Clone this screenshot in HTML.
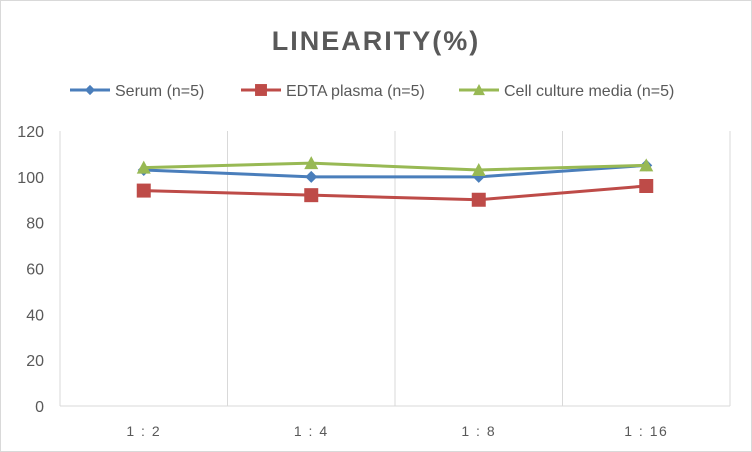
<!DOCTYPE html>
<html><head><meta charset="utf-8"><style>
body{margin:0;background:#fff;}
svg{display:block;font-family:"Liberation Sans",sans-serif;}
</style></head><body>
<svg width="752" height="452">
<rect x="0.5" y="0.5" width="751" height="451" fill="#fff" stroke="#d9d9d9"/>
<text x="376" y="50" text-anchor="middle" font-size="27" font-weight="bold" fill="#595959" letter-spacing="2">LINEARITY(%)</text>
<g id="legend"></g>
<g id="plot"></g>
</svg>
<script>
const categories=["1:2","1:4","1:8","1:16"];
const serum=[103,100,100,105];
const edta=[94,92,90,96];
const cell=[104,106,103,105];
const yTicks=[0,20,40,60,80,100,120];
const seriesNames=["Serum (n=5)","EDTA plasma (n=5)","Cell culture media (n=5)"];

const NS="http://www.w3.org/2000/svg";
const L=60,R=730,T=131,B=406,YMAX=120;
const cw=(R-L)/categories.length;
const xs=i=>L+cw*(i+0.5);
const ys=v=>B-(v/YMAX)*(B-T);
const plot=document.getElementById('plot');
function mk(tag,attrs,parent){const e=document.createElementNS(NS,tag);for(const k in attrs)e.setAttribute(k,attrs[k]);parent.appendChild(e);return e;}

for(let i=0;i<=categories.length;i++){
  const g=mk('line',{x1:L+cw*i,x2:L+cw*i,y1:T,y2:B,stroke:'#d9d9d9'},plot);
  
  
}
const ax=mk('line',{x1:L,x2:R,y1:B,y2:B,stroke:'#d9d9d9'},plot);


yTicks.forEach(v=>{
  const t=mk('text',{x:44,y:ys(v)+6,'text-anchor':'end','font-size':16,fill:'#595959'},plot);
  t.textContent=v;
  
  
});
categories.forEach((c,i)=>{
  const t=mk('text',{x:xs(i),y:436,'text-anchor':'middle','font-size':14,fill:'#595959','letter-spacing':'1.5'},plot);
  t.textContent=c.replace(':',' : ');
  
  
});
function marker(kind,x,y,color,parent,s){
  s=s||1;
  if(kind==='diamond') return mk('polygon',{points:`${x},${y-6*s} ${x+6*s},${y} ${x},${y+6*s} ${x-6*s},${y}`,fill:color},parent);
  if(kind==='square') return mk('rect',{x:x-7*s,y:y-7*s,width:14*s,height:14*s,fill:color},parent);
  return mk('polygon',{points:`${x},${y-7*s} ${x+7*s},${y+6*s} ${x-7*s},${y+6*s}`,fill:color},parent);
}
const series=[[serum,'#4a7ebb','diamond','serum'],[edta,'#be4b48','square','edta-plasma'],[cell,'#98b954','triangle','cell-culture-media']];
series.forEach(([vals,color,kind,name])=>{
  const p=mk('polyline',{points:vals.map((v,i)=>xs(i)+','+ys(v)).join(' '),fill:'none',stroke:color,'stroke-width':3},plot);
  
  
  vals.forEach((v,i)=>{
    const m=marker(kind,xs(i),ys(v),color,plot);
    
    
  });
});
const lg=document.getElementById('legend');
const lx=[70,241,459];
series.forEach(([vals,color,kind,name],k)=>{
  const x=lx[k],y=90;
  const l=mk('line',{x1:x,x2:x+40,y1:y,y2:y,stroke:color,'stroke-width':3},lg);
  
  
  const m=marker(kind,x+20,y,color,lg,0.85);
  
  
  const t=mk('text',{x:x+45,y:y+6,'font-size':16,fill:'#595959'},lg);
  t.textContent=seriesNames[k];
  
  
});
</script>
</body></html>
